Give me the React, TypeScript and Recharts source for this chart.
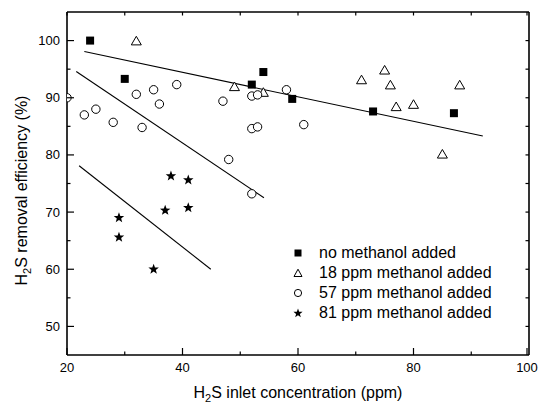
import { ScatterChart, Scatter, XAxis, YAxis, Legend, Label } from "recharts";

const noMethX = [24, 30, 52, 54, 59, 73, 87];
const noMethY = [100, 93.3, 92.3, 94.5, 89.8, 87.6, 87.3];

const m18X = [32, 49, 54, 71, 75, 76, 77, 80, 85, 88];
const m18Y = [100, 92, 91, 93.2, 94.9, 92.3, 88.5, 88.9, 80.2, 92.3];

const m57X = [20, 23, 25, 28, 32, 33, 35, 36, 39, 47, 48, 52, 53, 52, 53, 52, 58, 61];
const m57Y = [90, 87, 88, 85.7, 90.6, 84.8, 91.4, 88.9, 92.3, 89.4, 79.2, 90.3, 90.5, 84.6, 84.9, 73.2, 91.4, 85.3];

const m81X = [29, 29, 35, 37, 38, 41, 41];
const m81Y = [69, 65.6, 60, 70.3, 76.3, 75.6, 70.75];

// fitted lines (end points)
const fitTopX = [23, 92];
const fitTopY = [98.1, 83.3];
const fit57X = [21.6, 54.1];
const fit57Y = [94.6, 72.5];
const fit81X = [22.1, 44.9];
const fit81Y = [78.1, 60];

const xDomain = [20, 100];
const yDomain = [45, 105];
const xTicks = [20, 30, 40, 50, 60, 70, 80, 90, 100];
const yTicks = [50, 55, 60, 65, 70, 75, 80, 85, 90, 95, 100];

const seriesNames = [
  "no methanol added",
  "18 ppm methanol added",
  "57 ppm methanol added",
  "81 ppm methanol added",
];

const FONT = "'Liberation Sans', Arial, sans-serif";

const toPoints = (xs: number[], ys: number[]) => xs.map((x, i) => ({ x, y: ys[i] }));

const starPath = (cx: number, cy: number, ro: number, ri: number) => {
  let d = "";
  for (let i = 0; i < 10; i++) {
    const r = i % 2 === 0 ? ro : ri;
    const a = -Math.PI / 2 + (i * Math.PI) / 5;
    d += (i === 0 ? "M" : "L") + (cx + r * Math.cos(a)).toFixed(2) + "," + (cy + r * Math.sin(a)).toFixed(2);
  }
  return d + "Z";
};

const SquareShape = ({ cx, cy }: any) => (
  <rect x={cx - 4} y={cy - 4} width={8} height={8} fill="#000" />
);
const TriangleShape = ({ cx, cy }: any) => (
  <path
    d={`M${cx},${cy - 4.3}L${cx + 5},${cy + 4.3}L${cx - 5},${cy + 4.3}Z`}
    fill="#fff"
    stroke="#000"
    strokeWidth={1}
  />
);
// point sitting on the left frame is cut in half like in the original plot
const CircleShape = ({ cx, cy, payload }: any) =>
  payload && payload.x <= xDomain[0] ? (
    <path
      d={`M${cx},${cy - 4.2}A4.2,4.2 0 0 1 ${cx},${cy + 4.2}`}
      fill="#fff"
      stroke="#000"
      strokeWidth={1}
    />
  ) : (
    <circle cx={cx} cy={cy} r={4.2} fill="#fff" stroke="#000" strokeWidth={1} />
  );
const StarShape = ({ cx, cy }: any) => <path d={starPath(cx, cy, 5.5, 2.3)} fill="#000" />;
const NoShape = () => <g />;

const BottomTick = ({ x, y, payload }: any) => {
  const major = payload.value % 20 === 0;
  return (
    <g>
      <line x1={x} x2={x} y1={y} y2={y - (major ? 7 : 3.5)} stroke="#000" strokeWidth={1.2} />
      {major && (
        <text x={x} y={y + 17} textAnchor="middle" fontSize={13} fontFamily={FONT} fill="#000">
          {payload.value}
        </text>
      )}
    </g>
  );
};

const LeftTick = ({ x, y, payload }: any) => {
  const major = payload.value % 10 === 0;
  return (
    <g>
      <line x1={x} x2={x + (major ? 7 : 3.5)} y1={y} y2={y} stroke="#000" strokeWidth={1.2} />
      {major && (
        <text x={x - 7} y={y + 4.5} textAnchor="end" fontSize={13} fontFamily={FONT} fill="#000">
          {payload.value}
        </text>
      )}
    </g>
  );
};

const TopTick = ({ x, y }: any) => (
  <line x1={x} x2={x} y1={y} y2={y + 3.5} stroke="#000" strokeWidth={1.2} />
);

const RightTick = ({ x, y }: any) => (
  <line x1={x} x2={x - 3.5} y1={y} y2={y} stroke="#000" strokeWidth={1.2} />
);

const XTitle = ({ viewBox }: any) => {
  const cx = viewBox.x + viewBox.width / 2;
  return (
    <text x={cx} y={398} textAnchor="middle" fontSize={16} fontFamily={FONT} fill="#000">
      H<tspan dy={4} fontSize={11}>2</tspan>
      <tspan dy={-4}>S inlet concentration (ppm)</tspan>
    </text>
  );
};

const YTitle = ({ viewBox }: any) => {
  const cy = viewBox.y + viewBox.height / 2 + 7;
  return (
    <text
      x={27}
      y={cy}
      transform={`rotate(-90, 27, ${cy})`}
      textAnchor="middle"
      fontSize={16}
      fontFamily={FONT}
      fill="#000"
    >
      H<tspan dy={4} fontSize={11}>2</tspan>
      <tspan dy={-4}>S removal efficiency (%)</tspan>
    </text>
  );
};

const legendMarkers = [
  <rect key="s" x={2.5} y={2.5} width={7} height={7} fill="#000" />,
  <path key="t" d="M6,2.2L10,9.5L2,9.5Z" fill="#fff" stroke="#000" strokeWidth={1} />,
  <circle key="c" cx={6} cy={6} r={3.6} fill="#fff" stroke="#000" strokeWidth={1} />,
  <path key="st" d={starPath(6, 6.3, 4.8, 2)} fill="#000" />,
];

const LegendBox = () => (
  <div style={{ fontFamily: FONT, fontSize: 16, color: "#000" }}>
    {seriesNames.map((name, i) => (
      <div key={name} style={{ display: "flex", alignItems: "center", height: 20 }}>
        <svg width={12} height={12} style={{ marginLeft: 2, marginRight: 15 }}>
          {legendMarkers[i]}
        </svg>
        <span>{name}</span>
      </div>
    ))}
  </div>
);

const axisLine = { stroke: "#000", strokeWidth: 1.6 };

export default function App() {
  return (
    <div style={{ position: "absolute", left: 0, top: 0, width: 539, height: 404, background: "#fff" }}>
      <ScatterChart width={539} height={404} margin={{ top: 11, right: 9, bottom: 0, left: 0 }}>
        <XAxis
          xAxisId="bottom"
          type="number"
          dataKey="x"
          domain={xDomain}
          ticks={xTicks}
          height={49}
          tickSize={0}
          tickMargin={0}
          tick={<BottomTick />}
          axisLine={axisLine}
          label={<Label content={<XTitle />} />}
        />
        <XAxis
          xAxisId="top"
          orientation="top"
          type="number"
          dataKey="x"
          domain={xDomain}
          ticks={xTicks}
          height={1}
          tickSize={0}
          tickMargin={0}
          tick={<TopTick />}
          axisLine={axisLine}
        />
        <YAxis
          yAxisId="left"
          type="number"
          dataKey="y"
          domain={yDomain}
          ticks={yTicks}
          width={67}
          tickSize={0}
          tickMargin={0}
          tick={<LeftTick />}
          axisLine={axisLine}
          label={<Label content={<YTitle />} />}
        />
        <YAxis
          yAxisId="right"
          orientation="right"
          type="number"
          dataKey="y"
          domain={yDomain}
          ticks={yTicks}
          width={1}
          tickSize={0}
          tickMargin={0}
          tick={<RightTick />}
          axisLine={axisLine}
        />
        <Scatter
          xAxisId="top"
          yAxisId="right"
          data={toPoints(fitTopX, fitTopY)}
          line={{ stroke: "#000", strokeWidth: 1.1 }}
          shape={<NoShape />}
          legendType="none"
          isAnimationActive={false}
        />
        <Scatter
          xAxisId="top"
          yAxisId="right"
          data={toPoints(fit57X, fit57Y)}
          line={{ stroke: "#000", strokeWidth: 1.1 }}
          shape={<NoShape />}
          legendType="none"
          isAnimationActive={false}
        />
        <Scatter
          xAxisId="top"
          yAxisId="right"
          data={toPoints(fit81X, fit81Y)}
          line={{ stroke: "#000", strokeWidth: 1.1 }}
          shape={<NoShape />}
          legendType="none"
          isAnimationActive={false}
        />
        <Scatter xAxisId="bottom" yAxisId="left" name={seriesNames[0]} data={toPoints(noMethX, noMethY)} shape={<SquareShape />} isAnimationActive={false} />
        <Scatter xAxisId="bottom" yAxisId="left" name={seriesNames[1]} data={toPoints(m18X, m18Y)} shape={<TriangleShape />} isAnimationActive={false} />
        <Scatter xAxisId="bottom" yAxisId="left" name={seriesNames[2]} data={toPoints(m57X, m57Y)} shape={<CircleShape />} isAnimationActive={false} />
        <Scatter xAxisId="bottom" yAxisId="left" name={seriesNames[3]} data={toPoints(m81X, m81Y)} shape={<StarShape />} isAnimationActive={false} />
        <Legend
          layout="vertical"
          align="center"
          verticalAlign="middle"
          content={<LegendBox />}
          wrapperStyle={{ left: 290, top: 243, width: 220 }}
        />
      </ScatterChart>
    </div>
  );
}
